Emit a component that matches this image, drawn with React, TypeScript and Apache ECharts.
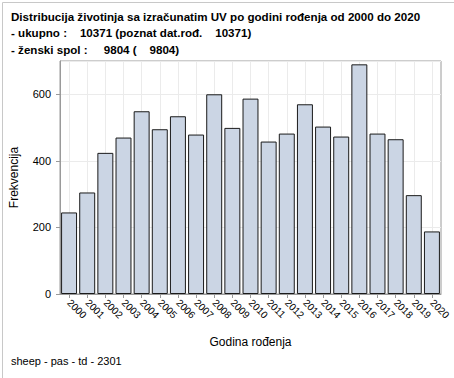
import React, { useEffect, useRef } from "react";
import * as echarts from "echarts";

const years = ["2000","2001","2002","2003","2004","2005","2006","2007","2008","2009","2010","2011","2012","2013","2014","2015","2016","2017","2018","2019","2020"];
const counts = [245,305,424,470,549,495,534,479,600,499,587,458,482,570,503,473,690,482,465,297,188];
const titleLines = [
  "Distribucija životinja sa izračunatim UV po godini rođenja od 2000 do 2020",
  "- ukupno :    10371 (poznat dat.rođ.    10371)",
  "- ženski spol :     9804 (    9804)",
];
const footer = "sheep - pas - td - 2301";
const xName = "Godina rođenja";
const yName = "Frekvencija";

export default function App() {
  const ref = useRef<HTMLDivElement>(null);
  useEffect(() => {
    const chart = echarts.init(ref.current!, null, { renderer: "svg" });
    const font = "'Liberation Sans', Arial, sans-serif";
    chart.setOption({
      animation: false,
      backgroundColor: "#fff",
      textStyle: { fontFamily: font },
      grid: { left: 60, right: 13, top: 61, bottom: 84, show: true, borderColor: "#9a9a9a", borderWidth: 1 },
      xAxis: {
        type: "category",
        data: years,
        name: xName,
        nameLocation: "middle",
        nameGap: 42,
        nameTextStyle: { fontSize: 12, color: "#000", fontFamily: font },
        axisLine: { show: true, lineStyle: { color: "#9a9a9a" } },
        axisTick: { show: true, alignWithLabel: true, interval: 0, length: 4, lineStyle: { color: "#9a9a9a" } },
        axisLabel: { rotate: -45, interval: 0, fontSize: 10, color: "#000", margin: 7, fontFamily: font },
        splitLine: { show: true, alignWithLabel: true, interval: 0, lineStyle: { color: "#ebebeb" } },
      },
      yAxis: {
        type: "value",
        min: 0,
        max: 700,
        interval: 200,
        name: yName,
        nameLocation: "middle",
        nameGap: 40,
        nameTextStyle: { fontSize: 12, color: "#000", fontFamily: font },
        axisLine: { show: true, lineStyle: { color: "#9a9a9a" } },
        axisTick: { show: true, length: 4, lineStyle: { color: "#9a9a9a" } },
        axisLabel: { fontSize: 11, color: "#000", margin: 9, fontFamily: font, showMaxLabel: false },
        splitLine: { show: true, lineStyle: { color: "#ebebeb" } },
      },
      series: [
        {
          type: "bar",
          data: counts,
          barCategoryGap: "12%",
          itemStyle: { color: "#cbd5e4", borderColor: "#1a1a1a", borderWidth: 1 },
        },
      ],
      graphic: [
        { type: "rect", left: 0, top: 0, shape: { x: 0.5, y: 0.5, width: 453, height: 377 }, style: { fill: "none", stroke: "#c8c8c8", lineWidth: 1 }, silent: true },
        ...titleLines.map((t, i) => ({
          type: "text",
          left: 11,
          top: 10 + i * 16.5,
          style: { text: t, font: `bold 11.6px ${font}`, fill: "#000" },
        })),
        { type: "text", left: 11, top: 355, style: { text: footer, font: `11px ${font}`, fill: "#000" } },
      ],
    });
    return () => chart.dispose();
  }, []);
  return <div ref={ref} style={{ position: "absolute", left: 0, top: 0, width: 454, height: 378 }} />;
}
